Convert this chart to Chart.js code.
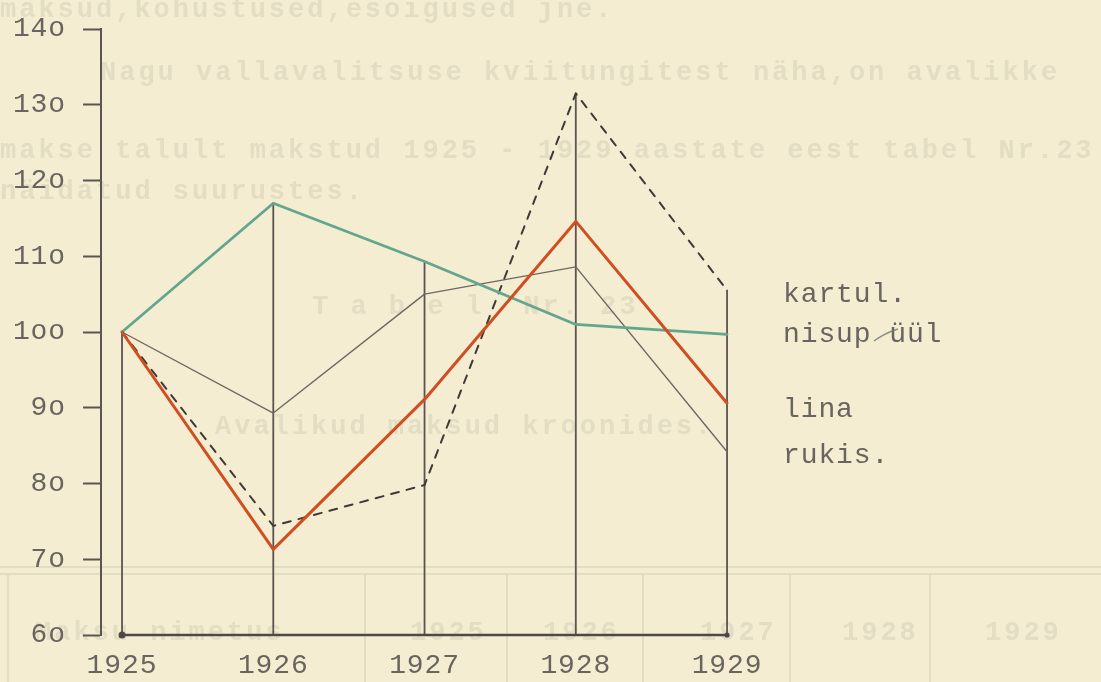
<!DOCTYPE html>
<html><head><meta charset="utf-8">
<script src="https://cdn.jsdelivr.net/npm/chart.js@4.4.1/dist/chart.umd.min.js"></script>
<style>
html,body{margin:0;padding:0;background:#f4edd2;}
canvas{display:block;}
</style></head><body>
<canvas id="c" width="1101" height="682"></canvas>
<script>
// ---- data ----
const years = [1925, 1926, 1927, 1928, 1929];
const yearLabels = ['1925', '1926', '1927', '1928', '1929'];
const yTickValues = [60, 70, 80, 90, 100, 110, 120, 130, 140];
const yTickLabels = ['6o', '7o', '8o', '9o', '1oo', '11o', '12o', '13o', '14o'];
const seriesNames = ['kartul.', 'nisup üül', 'lina', 'rukis.'];
const kartul   = [100, 74.4, 79.8, 131.5, 105.5];
const nisupyyl = [100, 117, 109.3, 101, 99.7];
const lina     = [100, 89.3, 105, 108.6, 84.2];
const rukis    = [100, 71.3, 91.1, 114.6, 90.6];

// faint show-through text of the typed page
const ghostLines = [
  'maksud,kohustused,esoigused jne.',
  'Nagu vallavalitsuse kviitungitest näha,on avalikke',
  'makse talult makstud 1925 - 1929 aastate eest tabel Nr.23',
  'näidatud suurustes.',
  'T a b e l  Nr. 23',
  'Avalikud maksud kroonides.'
];
const ghostTable = ['Maksu nimetus', '1925', '1926', '1927', '1928', '1929'];

// ---- styling ----
const PAPER = '#f4edd2';
const INK = '#5b5551';
const TYPE = '#69645f';
const FONT = "'Liberation Mono', 'DejaVu Sans Mono', monospace";
const SPACING = '0.9px';
const TSIZE = 28;

const pts = arr => years.map((x, i) => ({ x: x, y: arr[i] }));
const topAt = years.map((_, i) => Math.max(kartul[i], nisupyyl[i], lina[i], rukis[i]));

const datasets = [];
years.forEach((yr, i) => {
  datasets.push({
    label: 'v' + yr,
    data: [{ x: yr, y: 60 }, { x: yr, y: topAt[i] }],
    borderColor: INK, borderWidth: 1.8, pointRadius: 0, order: 20, clip: false
  });
});
datasets.push({
  label: 'base', data: pts(years.map(() => 60)),
  borderColor: '#4f4946', borderWidth: 2.6,
  pointRadius: [3.5, 0, 0, 0, 2.6], pointBackgroundColor: '#4f4946', pointBorderWidth: 0,
  order: 19, clip: false
});
datasets.push({ label: seriesNames[2], data: pts(lina), borderColor: '#6e6862', borderWidth: 1.4, pointRadius: 0, order: 4, clip: false });
datasets.push({ label: seriesNames[0], data: pts(kartul), borderColor: '#3f3a37', borderWidth: 2, borderDash: [8, 8], pointRadius: 0, order: 3, clip: false });
datasets.push({ label: seriesNames[1], data: pts(nisupyyl), borderColor: '#63a68e', borderWidth: 2.8, pointRadius: 0, order: 2, clip: false });
datasets.push({ label: seriesNames[3], data: pts(rukis), borderColor: '#cf4e22', borderWidth: 3, pointRadius: 0, order: 1, clip: false });

const paperPlugin = {
  id: 'paper',
  beforeDraw(chart) {
    const ctx = chart.ctx;
    ctx.save();
    ctx.fillStyle = PAPER;
    ctx.fillRect(0, 0, chart.width, chart.height);
    ctx.letterSpacing = '3px';
    ctx.fillStyle = 'rgba(110,105,100,0.12)';
    ctx.font = 'bold 27px ' + FONT;
    ctx.textBaseline = 'alphabetic';
    const gp = [[0, 17], [100, 80], [0, 158], [0, 199], [312, 314], [215, 434]];
    ghostLines.forEach((t, i) => ctx.fillText(t, gp[i][0], gp[i][1]));
    const gx = [35, 410, 543, 700, 842, 985];
    ghostTable.forEach((t, i) => ctx.fillText(t, gx[i], 640));
    ctx.strokeStyle = 'rgba(110,105,100,0.12)';
    ctx.lineWidth = 2;
    ctx.beginPath();
    ctx.moveTo(0, 567); ctx.lineTo(1101, 567);
    ctx.moveTo(0, 574); ctx.lineTo(1101, 574);
    [8, 365, 507, 643, 790, 930].forEach(x => { ctx.moveTo(x, 574); ctx.lineTo(x, 682); });
    ctx.stroke();
    ctx.restore();
    ctx.letterSpacing = SPACING;
  }
};

const legendPlugin = {
  id: 'typedLegend',
  afterDraw(chart) {
    const ctx = chart.ctx;
    ctx.save();
    ctx.letterSpacing = SPACING;
    ctx.font = TSIZE + 'px ' + FONT;
    ctx.fillStyle = TYPE;
    ctx.textBaseline = 'alphabetic';
    const lx = 783;
    const ly = [302, 342, 417, 463];
    seriesNames.forEach((t, i) => ctx.fillText(t, lx, ly[i]));
    // hand-drawn joining stroke in "nisup üül"
    ctx.strokeStyle = 'rgba(110,120,110,0.8)';
    ctx.lineWidth = 1.4;
    ctx.beginPath();
    ctx.moveTo(874, 341);
    ctx.quadraticCurveTo(885, 333, 898, 329);
    ctx.stroke();
    ctx.restore();
  }
};

new Chart(document.getElementById('c'), {
  type: 'line',
  data: { datasets: datasets },
  plugins: [paperPlugin, legendPlugin],
  options: {
    responsive: false,
    animation: false,
    devicePixelRatio: 1,
    layout: { padding: { top: 29, right: 321, bottom: 0, left: 0 } },
    plugins: { legend: { display: false }, tooltip: { enabled: false } },
    elements: { line: { tension: 0, borderCapStyle: 'round', borderJoinStyle: 'round' } },
    scales: {
      x: {
        type: 'linear', min: 1924.861, max: 1929.35,
        afterBuildTicks: s => { s.ticks = years.map(v => ({ value: v })); },
        afterFit: s => { s.height = 47; s.paddingLeft = 0; s.paddingRight = 0; },
        grid: { display: false, drawTicks: false },
        border: { display: false },
        ticks: {
          padding: 14, autoSkip: false, maxRotation: 0,
          color: TYPE, font: { family: FONT, size: TSIZE },
          callback: v => yearLabels[years.indexOf(v)] ?? ''
        }
      },
      y: {
        type: 'linear', min: 60, max: 140,
        afterBuildTicks: s => { s.ticks = yTickValues.map(v => ({ value: v })); },
        afterFit: s => { s.width = 101; s.paddingTop = 0; s.paddingBottom = 0; },
        grid: { drawOnChartArea: false, drawTicks: true, tickLength: 18, tickColor: INK, tickWidth: 2 },
        border: { display: true, color: INK, width: 2 },
        ticks: {
          padding: 17, color: TYPE, font: { family: FONT, size: TSIZE },
          callback: v => yTickLabels[yTickValues.indexOf(v)] ?? ''
        }
      }
    }
  }
});
</script>
</body></html>
